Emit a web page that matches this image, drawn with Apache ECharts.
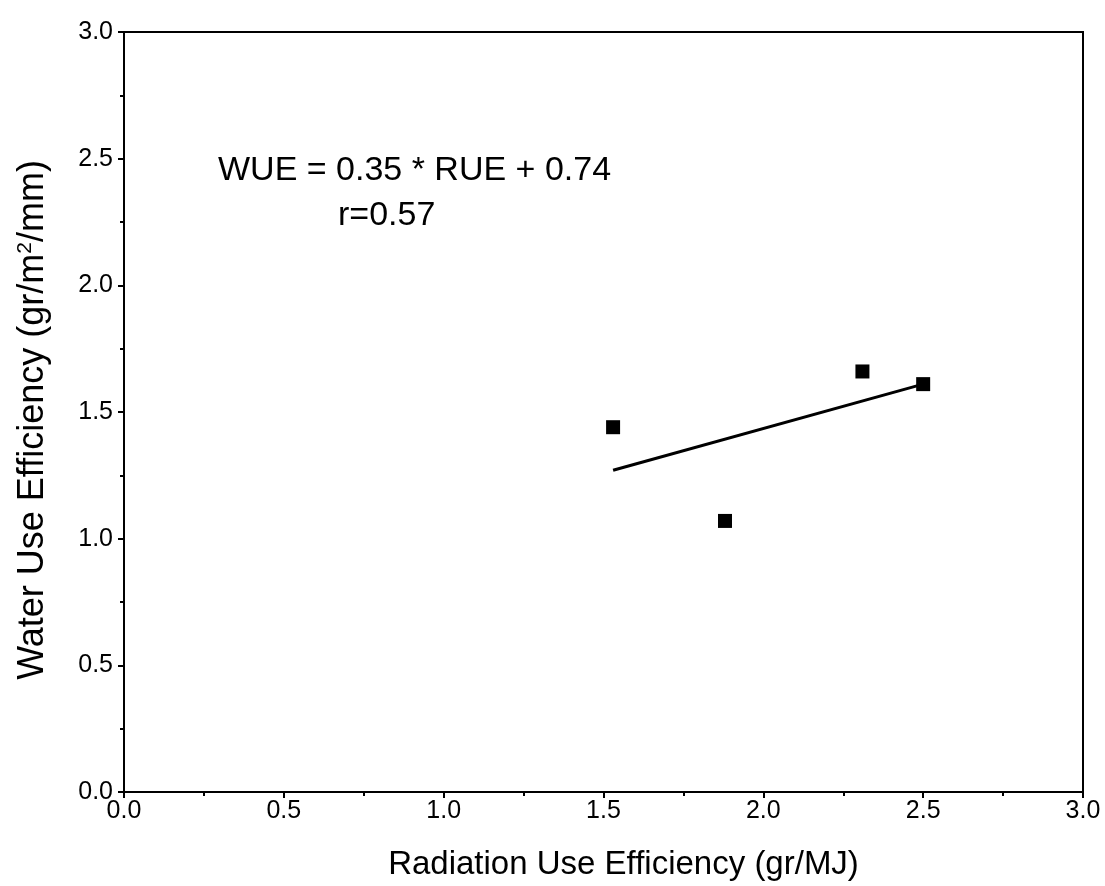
<!DOCTYPE html>
<html><head><meta charset="utf-8">
<script src="https://cdn.jsdelivr.net/npm/echarts@6/dist/echarts.min.js"></script>
<style>html,body{margin:0;padding:0;background:#fff}#c{width:1105px;height:886px}</style>
</head><body><div id="c"></div>
<script>
const rueValues = [1.53, 1.88, 2.31, 2.50];
const wueValues = [1.44, 1.07, 1.66, 1.61];
const fitX = [1.53, 2.50];
const fitY = [1.27, 1.61];
const equationText = 'WUE = 0.35 * RUE + 0.74';
const rText = 'r=0.57';

const chart = echarts.init(document.getElementById('c'));
const font = 'Liberation Sans, Arial, sans-serif';
const axisCommon = {
  min: 0, max: 3, interval: 0.5,
  axisLine: {show: true, onZero: false, lineStyle: {color: '#000', width: 2}},
  axisTick: {show: true, inside: false, length: 6, lineStyle: {color: '#000', width: 2}},
  minorTick: {show: true, splitNumber: 2, length: 4, lineStyle: {color: '#000', width: 2}},
  splitLine: {show: false},
  axisLabel: {color: '#000', fontSize: 25, fontFamily: font, formatter: v => v.toFixed(1)}
};
chart.setOption({
  animation: false,
  backgroundColor: '#fff',
  grid: {left: 124, top: 32, right: 22, bottom: 93, show: true, borderColor: '#000', borderWidth: 2},
  xAxis: Object.assign({}, axisCommon, {
    type: 'value',
    name: 'Radiation Use Efficiency (gr/MJ)',
    nameLocation: 'middle', nameGap: 56,
    nameTextStyle: {color: '#000', fontSize: 33, fontFamily: font, padding: [0, 0, 0, 40]},
    axisLabel: Object.assign({}, axisCommon.axisLabel, {margin: 7})
  }),
  yAxis: Object.assign({}, axisCommon, {
    type: 'value',
    name: 'Water Use Efficiency (gr/m{sup|2}/mm)',
    nameLocation: 'middle', nameGap: 72,
    nameTextStyle: {color: '#000', fontSize: 36, fontFamily: font, padding: [0, 16, 0, 0],
      rich: {sup: {fontSize: 21, verticalAlign: 'top', padding: [0,0,16,0], fontFamily: font, color: '#000'}}},
    axisLabel: Object.assign({}, axisCommon.axisLabel, {margin: 11})
  }),
  series: [
    {type: 'scatter', symbol: 'rect', symbolSize: 14, itemStyle: {color: '#000', opacity: 1},
     data: rueValues.map((x, i) => [x, wueValues[i]])},
    {type: 'line', symbol: 'none', lineStyle: {color: '#000', width: 3},
     data: fitX.map((x, i) => [x, fitY[i]])}
  ],
  graphic: [
    {type: 'text', left: 218, top: 154, style: {text: equationText, fontSize: 34, fontFamily: font, fill: '#000'}},
    {type: 'text', left: 338, top: 199, style: {text: rText, fontSize: 34, fontFamily: font, fill: '#000'}}
  ]
});
</script></body></html>
